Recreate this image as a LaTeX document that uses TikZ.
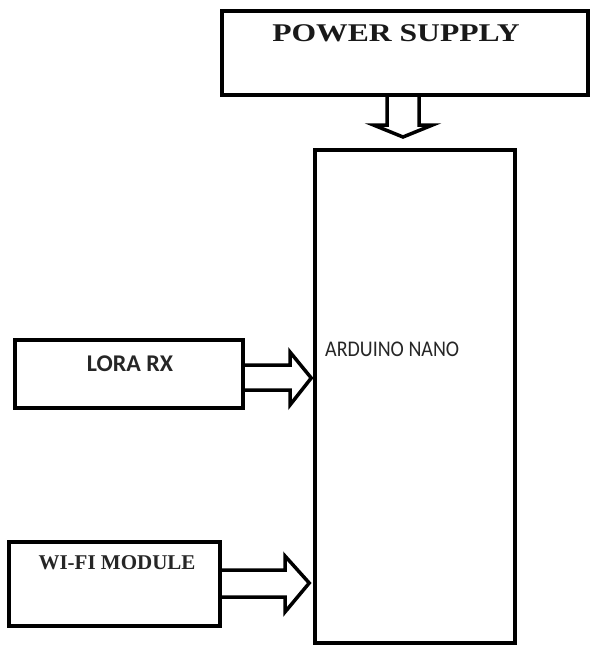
\documentclass[tikz,border=0pt]{standalone}
\usepackage{fontspec}
\setmainfont{Liberation Serif}
\newfontfamily\calib{Carlito}
\usetikzlibrary{calc}
\begin{document}
\begin{tikzpicture}[x=1pt,y=-1pt,
  blockbox/.style={draw=black,fill=white,line width=4pt,minimum width=#1,inner sep=0pt},
  fatarrow/.style={draw=black,fill=white,line width=3.5pt,line join=miter}]
\useasboundingbox (0,0) rectangle (591,649);
% boxes
\node[blockbox=366pt,minimum height=84pt] (ps) at (405,53) {};
\node[font=\fontsize{25.5}{28}\selectfont\bfseries,text=black!90] (pst) at (396,33) {\scalebox{1.24}[1]{POWER SUPPLY}};
\node[blockbox=200pt,minimum height=493pt,line width=3.5pt] (ard) at (415,396.5) {};
\node[font=\calib\fontsize{20}{24}\selectfont,text=black!85,anchor=west,inner sep=0pt] (ardt) at (325,349) {\scalebox{1}[1.12]{ARDUINO NANO}};
\node[blockbox=228pt,minimum height=68pt] (lora) at (129,374) {};
\node[font=\calib\fontsize{24}{26}\selectfont\bfseries,text=black!85] (lorat) at (130,364) {LORA RX};
\node[blockbox=211pt,minimum height=84pt] (wifi) at (114.5,584) {};
\node[font=\fontsize{21}{24}\selectfont\bfseries,text=black!85] (wifit) at (117,563) {WI-FI MODULE};
% power arrow (down)
\coordinate (pa) at (403,97);
\draw[fatarrow] ($(pa)+(-16,0)$) -- ($(pa)+(-16,28)$) -- ($(pa)+(-29.5,28)$) -- ($(pa)+(0,40)$)
  -- ($(pa)+(29.5,28)$) -- ($(pa)+(16,28)$) -- ($(pa)+(16,0)$);
% lora arrow
\coordinate (la) at (lora.east |- 0,377.5);
\coordinate (lt) at (ard.west |- 0,378);
\draw[fatarrow] (la) ++(0,-12.5) -- (290,365) -- (290,352) -- ($(lt)+(-2,0)$) -- (290,405) -- (290,390) -- ($(la)+(0,12.5)$);
% wifi arrow
\coordinate (wa) at (wifi.east |- 0,583.5);
\coordinate (wt) at (ard.west |- 0,583);
\draw[fatarrow] (wa) ++(0,-13.5) -- (285,570) -- (285,556) -- ($(wt)+(-4,0)$) -- (285,612) -- (285,597) -- ($(wa)+(0,13.5)$);
\end{tikzpicture}
\end{document}
